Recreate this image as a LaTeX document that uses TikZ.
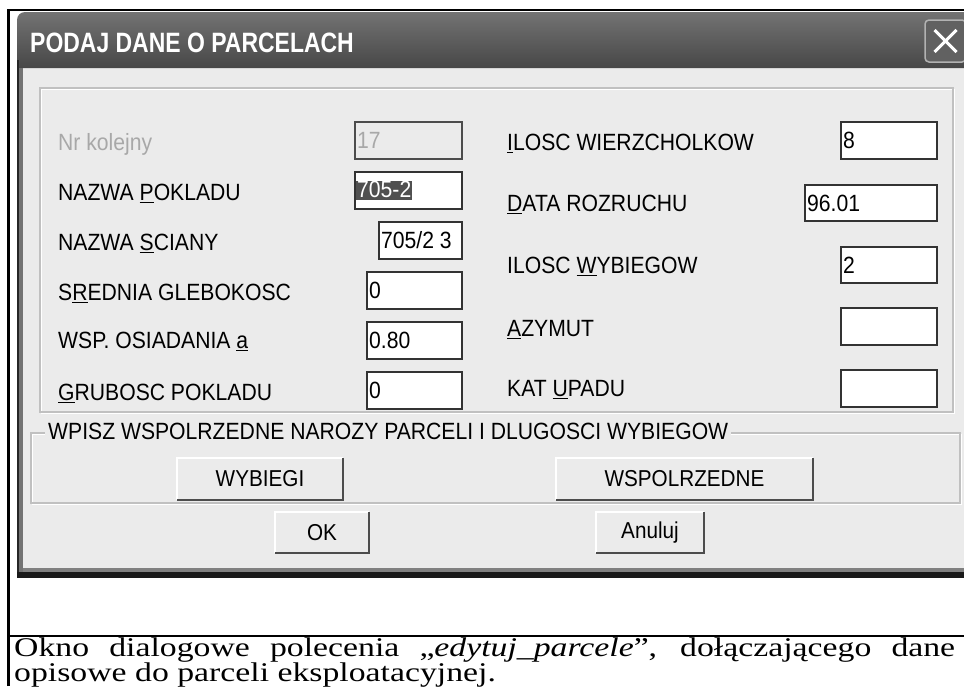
\documentclass[tikz,border=0pt]{standalone}
\usepackage{fontspec}
\setmainfont{Liberation Sans}
\newfontfamily\dlgfont[FakeStretch=0.9]{Liberation Sans}
\newfontfamily\titlefont[FakeStretch=0.82]{Liberation Sans}
\newfontfamily\capfont[FakeStretch=1.25]{Liberation Serif}
\usetikzlibrary{positioning,calc}

\definecolor{dlgbg}{HTML}{EBEBEB}
\definecolor{etch}{HTML}{C0C0C0}
\definecolor{selbg}{HTML}{505050}
\definecolor{greytext}{HTML}{A8A8A8}

\begin{document}
\begin{tikzpicture}[
    x=1pt, y=-1pt,
    lbl/.style={anchor=west, inner sep=0pt, text height=16.8pt, text depth=0pt, font=\dlgfont\fontsize{23.5}{26}\selectfont},
    field/.style={draw=black!80, line width=2pt, fill=white, inner sep=0pt, minimum height=37pt},
    val/.style={anchor=west, inner sep=0pt, text height=16.8pt, text depth=0pt, font=\dlgfont\fontsize{23.5}{26}\selectfont},
    btn/.style={fill=dlgbg, inner sep=0pt, minimum height=42pt, font=\dlgfont\fontsize{23}{24}\selectfont},
    lightedge/.style={line width=1.5pt, white},
    darkedge/.style={line width=2pt, black!70},
    etched/.style={draw=etch, line width=1.5pt},
    captext/.style={anchor=base west, inner sep=0pt, font=\capfont\fontsize{27}{29}\selectfont}
]
\useasboundingbox (0,0) rectangle (964,686);
\clip (0,0) rectangle (964,686);

% table frame
\draw[line width=2.5pt] (8.5,686) -- (8.5,10) -- (964,10);
\draw[line width=2pt] (8.5,636) -- (964,636);

% window
\fill[dlgbg] (17,60) rectangle (975,578);
\shade[top color=black!55, bottom color=black!72, rounded corners=8pt]
    (17,68) |- (975,12) [sharp corners] -- (975,68) -- cycle;
\fill[black!85] (17,60) rectangle (19,578);
\fill[black!55] (19,68) rectangle (23,572);
\fill[black!50] (23,568) rectangle (975,572);
\fill[black!90] (17,572) rectangle (975,578);

\node[anchor=base west, inner sep=0pt, text=white, font=\titlefont\fontsize{28}{30}\selectfont\bfseries] (title) at (30,52) {PODAJ DANE O PARCELACH};
\node[draw=white!70!black, line width=1.5pt, fill=black!62, rounded corners=4pt, minimum width=41pt, minimum height=42pt] (closebtn) at (945.5,41) {};
\draw[white, line width=3pt] ($(closebtn.center)+(-11,-11)$) -- ($(closebtn.center)+(11,11)$);
\draw[white, line width=3pt] ($(closebtn.center)+(-11,11)$) -- ($(closebtn.center)+(11,-11)$);

% data group
\draw[white, line width=1.5pt] (41.5,89.5) rectangle (954.5,413.5);
\draw[etched] (40,88) rectangle (953,412);

\node[lbl, text=greytext] (l-nr) at (58,142) {Nr kolejny};
\node[lbl] (l-pokl) at (58,192) {NAZWA \underline{P}OKLADU};
\node[lbl] (l-sciany) at (58,242) {NAZWA \underline{S}CIANY};
\node[lbl] (l-glebo) at (58,292) {S\underline{R}EDNIA GLEBOKOSC};
\node[lbl] (l-osiad) at (58,340) {WSP. OSIADANIA \underline{a}};
\node[lbl] (l-grub) at (58,392) {\underline{G}RUBOSC POKLADU};

\node[field, fill=dlgbg, draw=black!70, minimum width=107pt] (f-nr) at (408.5,140.5) {};
\node[field, minimum width=107pt] (f-pokl) at (408.5,190.5) {};
\node[field, minimum width=83pt] (f-sciany) at (420.5,240.5) {};
\node[field, minimum width=95pt] (f-glebo) at (414.5,290.5) {};
\node[field, minimum width=95pt] (f-osiad) at (414.5,340.5) {};
\node[field, minimum width=95pt] (f-grub) at (414.5,390.5) {};

\node[val, text=greytext, right=3pt of f-nr.west] (v-nr) {17};
\node[val, fill=selbg, text=white, text depth=2pt, inner xsep=1pt, right=2pt of f-pokl.west] (v-pokl) {705-2};
\node[val, right=3pt of f-sciany.west] (v-sciany) {705/2 3};
\node[val, right=3pt of f-glebo.west] (v-glebo) {0};
\node[val, right=3pt of f-osiad.west] (v-osiad) {0.80};
\node[val, right=3pt of f-grub.west] (v-grub) {0};

\node[lbl] (l-wierz) at (507,142) {\underline{I}LOSC WIERZCHOLKOW};
\node[lbl] (l-data) at (507,203) {\underline{D}ATA ROZRUCHU};
\node[lbl] (l-wybieg) at (507,265) {ILOSC \underline{W}YBIEGOW};
\node[lbl] (l-azymut) at (507,328) {\underline{A}ZYMUT};
\node[lbl] (l-kat) at (507,388) {KAT \underline{U}PADU};

\node[field, minimum width=96pt] (f-wierz) at (889,140.5) {};
\node[field, minimum width=132pt, minimum height=36pt] (f-data) at (871,203) {};
\node[field, minimum width=96pt, minimum height=36pt] (f-wybieg) at (889,265) {};
\node[field, minimum width=96pt] (f-azymut) at (889,326.5) {};
\node[field, minimum width=96pt] (f-kat) at (889,388.5) {};

\node[val, right=3pt of f-wierz.west] (v-wierz) {8};
\node[val, right=3pt of f-data.west] (v-data) {96.01};
\node[val, right=3pt of f-wybieg.west] (v-wybieg) {2};

% corners group
\draw[white, line width=1.5pt] (32.5,434.5) rectangle (961.5,504.5);
\draw[etched] (31,433) rectangle (960,503);
\node[lbl, fill=dlgbg, inner xsep=3pt] (l-group) at (45,431) {WPISZ WSPOLRZEDNE NAROZY PARCELI I DLUGOSCI WYBIEGOW};

\node[btn, minimum width=166pt] (b-wybiegi) at (260,479) {WYBIEGI};
\node[btn, minimum width=257pt] (b-wspol) at (684.5,479) {WSPOLRZEDNE};
\node[btn, minimum width=94pt, minimum height=41pt] (b-ok) at (322,532.5) {OK};
\node[btn, minimum width=108pt, minimum height=41pt] (b-anuluj) at (650,532.5) {Anuluj};
\foreach \b in {b-wybiegi,b-wspol,b-ok,b-anuluj}{
    \draw[lightedge] (\b.south west) |- (\b.north east);
    \draw[darkedge] (\b.south west) -| (\b.north east);
}

% caption
\node[captext] (caption1) at (14,656)
    {\makebox[941pt][s]{Okno dialogowe polecenia „\textit{edytuj\_parcele}”, dołączającego dane}};
\node[captext] (caption2) at (14,681) {opisowe do parceli eksploatacyjnej.};
\end{tikzpicture}
\end{document}
